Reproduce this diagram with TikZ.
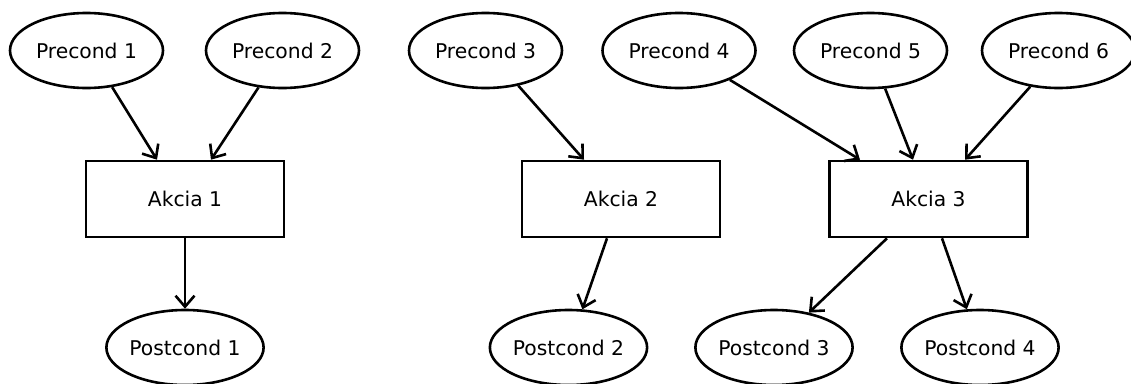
\documentclass[tikz,border=0pt]{standalone}
\usepackage{fontspec}
\setmainfont{DejaVu Sans}
\usetikzlibrary{shapes.geometric,arrows.meta}
\begin{document}
\begin{tikzpicture}[x=1pt,y=-1pt,
  cond/.style={ellipse,draw,line width=2.6pt,minimum width=153pt,minimum height=75pt,inner sep=0pt,font=\fontsize{20.3}{24}\selectfont},
  act/.style={rectangle,draw,line width=2.6pt,minimum width=198pt,minimum height=76pt,inner sep=0pt,font=\fontsize{20.3}{24}\selectfont},
  link/.style={line width=2.6pt,-{Straight Barb[length=11pt,width=19pt,line width=2.6pt]}}]
\useasboundingbox (0,0) rectangle (1131,383);

% preconditions
\node[cond] (p1) at (86.5,50.5) {Precond 1};
\node[cond] (p2) at (282.5,50.5) {Precond 2};
\node[cond] (p3) at (485.5,50.5) {Precond 3};
\node[cond] (p4) at (679,50.5) {Precond 4};
\node[cond] (p5) at (870.5,50.5) {Precond 5};
\node[cond] (p6) at (1058.5,50.5) {Precond 6};

% actions
\node[act] (a1) at (185,199) {Akcia 1};
\node[act] (a2) at (621,199) {Akcia 2};
\node[act] (a3) at (928.5,199) {Akcia 3};

% postconditions
\node[cond] (q1) at (185,347.5) {Postcond 1};
\node[cond] (q2) at (568.5,347.5) {Postcond 2};
\node[cond] (q3) at (774,347.5) {Postcond 3};
\node[cond] (q4) at (980,347.5) {Postcond 4};

% preconditions into actions
\draw[link] (p1.-55) -- ([xshift=-28pt]a1.north);
\draw[link] (p2.-123) -- ([xshift=26pt]a1.north);
\draw[link] (p3.-47.5) -- ([xshift=-37pt]a2.north);
\draw[link] (p4.-30) -- ([xshift=-68.5pt]a3.north);
\draw[link] (p5.-69) -- ([xshift=-15.5pt]a3.north);
\draw[link] (p6.-128) -- ([xshift=36.5pt]a3.north);

% actions into postconditions
\draw[link] (a1.south) -- (q1.north);
\draw[link] ([xshift=-14pt]a2.south) -- (q2.70);
\draw[link] ([xshift=-41.5pt]a3.south) -- (q3.45);
\draw[link] ([xshift=13.5pt]a3.south) -- (q4.109);
\end{tikzpicture}
\end{document}
